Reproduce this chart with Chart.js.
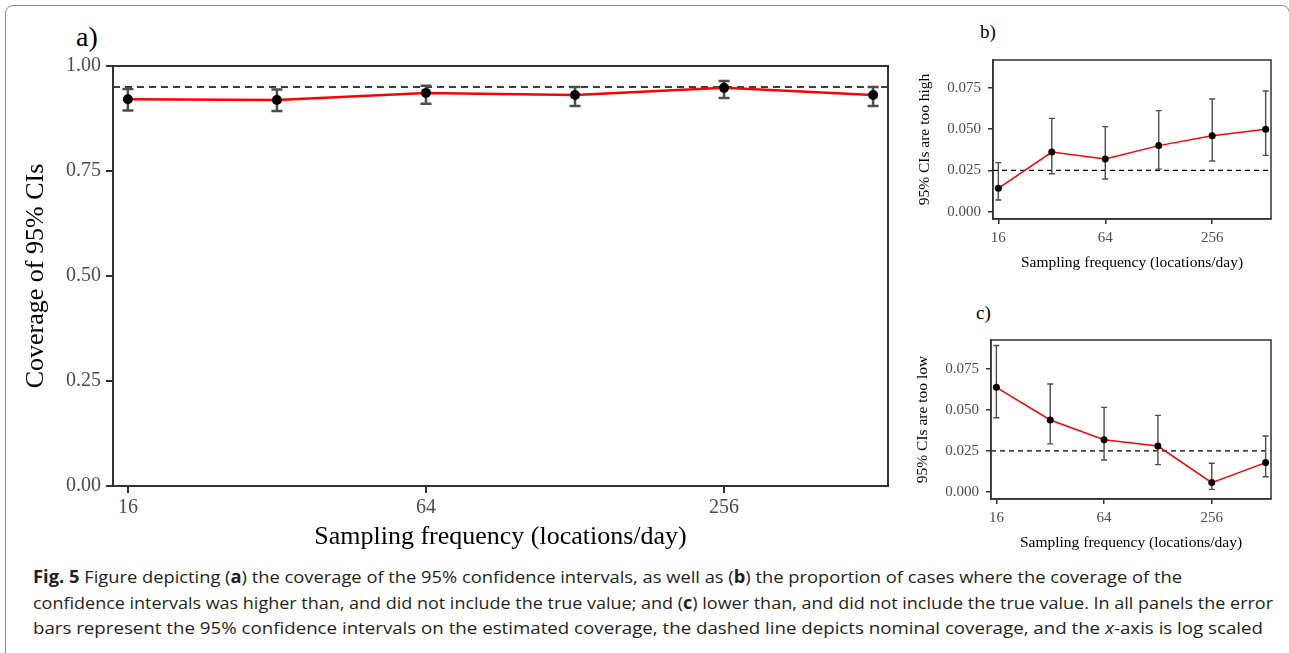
<!DOCTYPE html>
<html>
<head>
<meta charset="utf-8">
<script src="https://cdn.jsdelivr.net/npm/chart.js@4.4.1/dist/chart.umd.min.js"></script>
<style>
  html, body { margin:0; padding:0; background:#fff; width:1289px; height:653px; overflow:hidden; }
  #frame { position:absolute; left:5px; top:5px; width:1285px; height:720px; box-sizing:border-box;
           border:1.5px solid #8a8a8a; border-radius:8px; }
  .cv { position:absolute; }
  .plab { position:absolute; font-family:"Liberation Serif", serif; color:#000; line-height:1; }
  .cap { position:absolute; left:33px; white-space:nowrap; font-family:"Open Sans","Noto Sans",sans-serif;
         font-size:17px; color:#231f20; transform-origin:0 50%; line-height:20px; }
  .cap b { font-weight:700; }
</style>
</head>
<body>
<div id="frame"></div>

<div class="plab" style="left:76px; top:23px; font-size:28px;">a)</div>
<div class="plab" style="left:980px; top:22px; font-size:19px;">b)</div>
<div class="plab" style="left:976px; top:303px; font-size:19px;">c)</div>

<canvas id="ca" class="cv" width="890" height="515" style="left:10px; top:40px;"></canvas>
<canvas id="cb" class="cv" width="380" height="240" style="left:905px; top:40px;"></canvas>
<canvas id="cc" class="cv" width="380" height="240" style="left:905px; top:320px;"></canvas>

<div class="cap" id="cap1" style="top:567px;"><b>Fig. 5</b> Figure depicting (<b>a</b>) the coverage of the 95% confidence intervals, as well as (<b>b</b>) the proportion of cases where the coverage of the</div>
<div class="cap" id="cap2" style="top:593px;">confidence intervals was higher than, and did not include the true value; and (<b>c</b>) lower than, and did not include the true value. In all panels the error</div>
<div class="cap" id="cap3" style="top:618px;">bars represent the 95% confidence intervals on the estimated coverage, the dashed line depicts nominal coverage, and the <i>x</i>-axis is log scaled</div>

<script>
// ---------------- data ----------------
const frequency = [16, 32, 64, 128, 256, 512];
const xTickValues = [16, 64, 256];

// panel a: coverage of 95% CIs
const coverage    = [0.921, 0.919, 0.936, 0.931, 0.948, 0.931];
const coverageLo  = [0.894, 0.893, 0.910, 0.905, 0.924, 0.905];
const coverageHi  = [0.945, 0.944, 0.953, 0.950, 0.964, 0.950];
const nominalA = 0.95;
const yTicksA = [0, 0.25, 0.5, 0.75, 1];

// panel b: 95% CIs are too high
const tooHigh   = [0.0142, 0.0361, 0.0319, 0.0400, 0.0460, 0.0499];
const tooHighLo = [0.0071, 0.0230, 0.0198, 0.0258, 0.0307, 0.0341];
const tooHighHi = [0.0297, 0.0565, 0.0515, 0.0612, 0.0682, 0.0730];

// panel c: 95% CIs are too low
const tooLow   = [0.0638, 0.0439, 0.0319, 0.0280, 0.0057, 0.0179];
const tooLowLo = [0.0453, 0.0293, 0.0195, 0.0167, 0.0016, 0.0093];
const tooLowHi = [0.0893, 0.0659, 0.0516, 0.0467, 0.0175, 0.0341];
const nominalBC = 0.025;
const yTicksBC = [0, 0.025, 0.05, 0.075];

const xLabel = 'Sampling frequency (locations/day)';

// ---------------- drawing ----------------
const SERIF = '"Liberation Serif", "Times New Roman", serif';

const decor = {
  id: 'decor',
  beforeDatasetsDraw(chart, args, o) {
    const {ctx, chartArea: a, scales: {y}} = chart;
    const yy = y.getPixelForValue(o.nominal);
    ctx.save();
    ctx.strokeStyle = '#000';
    ctx.lineWidth = o.dashWidth;
    ctx.setLineDash(o.dash);
    ctx.beginPath(); ctx.moveTo(a.left, yy); ctx.lineTo(a.right, yy); ctx.stroke();
    ctx.restore();
  },
  beforeDatasetDraw(chart, args, o) {
    if (args.index !== 0) return;
    const {ctx, scales: {x, y}} = chart;
    ctx.save();
    ctx.strokeStyle = o.errColor;
    ctx.lineWidth = o.errWidth;
    o.xs.forEach((xv, i) => {
      const px = x.getPixelForValue(xv);
      const p1 = y.getPixelForValue(o.lo[i]);
      const p2 = y.getPixelForValue(o.hi[i]);
      ctx.beginPath();
      ctx.moveTo(px, p1); ctx.lineTo(px, p2);
      ctx.moveTo(px - o.cap, p1); ctx.lineTo(px + o.cap, p1);
      ctx.moveTo(px - o.cap, p2); ctx.lineTo(px + o.cap, p2);
      ctx.stroke();
    });
    ctx.restore();
  },
  afterDraw(chart, args, o) {
    const {ctx, chartArea: a} = chart;
    ctx.save();
    ctx.strokeStyle = '#333';
    ctx.lineWidth = o.borderWidth;
    ctx.strokeRect(a.left, a.top, a.right - a.left, a.bottom - a.top);
    ctx.restore();
  }
};

function makePanel(id, p) {
  const pts = frequency.map((f, i) => ({x: f, y: p.vals[i]}));
  return new Chart(document.getElementById(id), {
    type: 'line',
    data: {
      datasets: [
        { data: pts, showLine: false, pointRadius: p.pointR, pointBackgroundColor: '#000',
          pointBorderColor: '#000', pointBorderWidth: 0 },
        { data: pts, borderColor: '#ff0000', borderWidth: p.lineW, pointRadius: 0, tension: 0, fill: false }
      ]
    },
    options: {
      responsive: false, animation: false, devicePixelRatio: 1,
      layout: { padding: { top: p.padTop, right: p.padRight, left: 0, bottom: 0 } },
      plugins: {
        legend: { display: false }, tooltip: { enabled: false },
        decor: { nominal: p.nominal, dash: p.dash, dashWidth: p.dashW, xs: frequency,
                 lo: p.lo, hi: p.hi, errColor: '#4d4d4d', errWidth: p.errW, cap: p.cap,
                 borderWidth: p.borderW }
      },
      scales: {
        x: {
          type: 'logarithmic', min: 14.93, max: 548.7,
          afterBuildTicks: s => { s.ticks = xTickValues.map(v => ({value: v})); },
          afterFit: s => { s.height = p.xH; },
          grid: { display: true, drawOnChartArea: false, drawTicks: true, tickLength: p.tickL,
                  color: '#333', lineWidth: p.tickW },
          border: { display: true, color: '#333', width: p.borderW },
          ticks: { color: '#4d4d4d', font: { family: SERIF, size: p.tickFont }, padding: p.xTickPad,
                   maxRotation: 0, autoSkip: false, callback: v => String(v) },
          title: { display: true, text: xLabel, color: '#000', font: { family: SERIF, size: p.titleFont },
                   padding: { top: 0, bottom: p.xTitlePad } }
        },
        y: {
          type: 'linear', min: p.yMin, max: p.yMax,
          afterBuildTicks: s => { s.ticks = p.yTicks.map(v => ({value: v})); },
          afterFit: s => { s.width = p.yW; },
          grid: { display: true, drawOnChartArea: false, drawTicks: true, tickLength: p.tickL,
                  color: '#333', lineWidth: p.tickW },
          border: { display: true, color: '#333', width: p.borderW },
          ticks: { color: '#4d4d4d', font: { family: SERIF, size: p.tickFont }, padding: p.yTickPad,
                   callback: v => Number(v).toFixed(p.dec) },
          title: { display: true, text: p.yTitle, color: '#000', font: { family: SERIF, size: p.titleFont },
                   padding: { top: p.yTitlePad, bottom: 0 } }
        }
      }
    },
    plugins: [decor]
  });
}

makePanel('ca', {
  vals: coverage, lo: coverageLo, hi: coverageHi, nominal: nominalA,
  yMin: 0, yMax: 1, yTicks: yTicksA, dec: 2, yTitle: 'Coverage of 95% CIs',
  padTop: 26, padRight: 12, xH: 69, yW: 103,
  pointR: 5, lineW: 2.5, dash: [7, 5], dashW: 1.5, errW: 2.5, cap: 5.5, borderW: 2,
  tickL: 7, tickW: 2, tickFont: 20, titleFont: 26, xTickPad: 3, yTickPad: 5,
  xTitlePad: 2, yTitlePad: 11
});

makePanel('cb', {
  vals: tooHigh, lo: tooHighLo, hi: tooHighHi, nominal: nominalBC,
  yMin: -0.0044, yMax: 0.0918, yTicks: yTicksBC, dec: 3, yTitle: '95% CIs are too high',
  padTop: 20, padRight: 14, xH: 61, yW: 88,
  pointR: 3.5, lineW: 1.5, dash: [5, 4], dashW: 1.3, errW: 1.4, cap: 3, borderW: 1.5,
  tickL: 5, tickW: 1.5, tickFont: 15, titleFont: 15.5, xTickPad: 5, yTickPad: 7,
  xTitlePad: 8, yTitlePad: 11
});

makePanel('cc', {
  vals: tooLow, lo: tooLowLo, hi: tooLowHi, nominal: nominalBC,
  yMin: -0.0043, yMax: 0.0927, yTicks: yTicksBC, dec: 3, yTitle: '95% CIs are too low',
  padTop: 20, padRight: 14, xH: 61, yW: 86,
  pointR: 3.5, lineW: 1.5, dash: [5, 4], dashW: 1.3, errW: 1.4, cap: 3, borderW: 1.5,
  tickL: 5, tickW: 1.5, tickFont: 15, titleFont: 15.5, xTickPad: 5, yTickPad: 7,
  xTitlePad: 8, yTitlePad: 9
});

// fit caption lines horizontally to the condensed face of the original
const capTargets = { cap1: 1149, cap2: 1240, cap3: 1230 };
Object.keys(capTargets).forEach(id => {
  const el = document.getElementById(id);
  const w = el.getBoundingClientRect().width;
  el.style.transform = 'scaleX(' + (capTargets[id] / w) + ')';
});
</script>
</body>
</html>
